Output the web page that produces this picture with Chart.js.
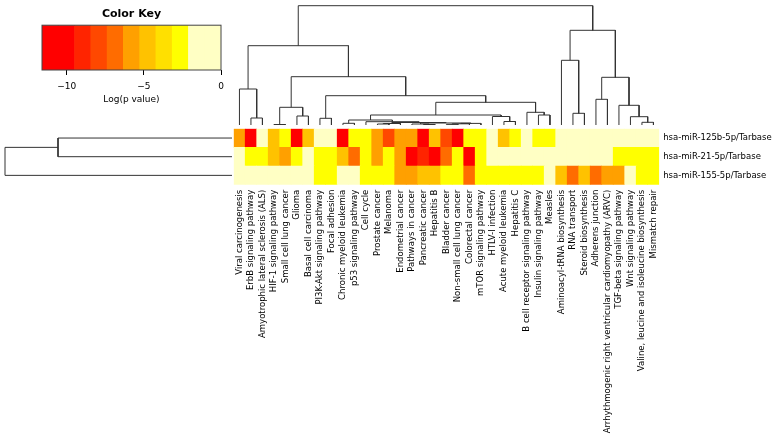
<!DOCTYPE html>
<html>
<head>
<meta charset="utf-8">
<script src="https://cdn.jsdelivr.net/npm/chart.js@4.4.0/dist/chart.umd.min.js"></script>
<style>
body { margin: 0; background: #fff; }
#wrap { position: relative; width: 778px; height: 443px; }
canvas { position: absolute; left: 0; top: 0; }
</style>
</head>
<body>
<div id="wrap">
  <canvas id="key" width="778" height="443"></canvas>
  <canvas id="coltree" width="778" height="443"></canvas>
  <canvas id="rowtree" width="778" height="443"></canvas>
  <canvas id="heat" width="778" height="443"></canvas>
</div>
<script>
var pathways = ['Viral carcinogenesis', 'ErbB signaling pathway', 'Amyotrophic lateral sclerosis (ALS)',
  'HIF-1 signaling pathway', 'Small cell lung cancer', 'Glioma', 'Basal cell carcinoma',
  'PI3K-Akt signaling pathway', 'Focal adhesion', 'Chronic myeloid leukemia', 'p53 signaling pathway',
  'Cell cycle', 'Prostate cancer', 'Melanoma', 'Endometrial cancer', 'Pathways in cancer',
  'Pancreatic cancer', 'Hepatitis B', 'Bladder cancer', 'Non-small cell lung cancer', 'Colorectal cancer',
  'mTOR signaling pathway', 'HTLV-I infection', 'Acute myeloid leukemia', 'Hepatitis C',
  'B cell receptor signaling pathway', 'Insulin signaling pathway', 'Measles', 'Aminoacyl-tRNA biosynthesis',
  'RNA transport', 'Steroid biosynthesis', 'Adherens junction',
  'Arrhythmogenic right ventricular cardiomyopathy (ARVC)', 'TGF-beta signaling pathway',
  'Wnt signaling pathway', 'Valine, leucine and isoleucine biosynthesis', 'Mismatch repair'];

var rowNames = ['hsa-miR-125b-5p/Tarbase', 'hsa-miR-21-5p/Tarbase', 'hsa-miR-155-5p/Tarbase'];

// log(p value) per pathway
var mir125b = [-5.8, -10.5, -1.0, -4.6, -2.6, -10.5, -4.6, -1.1, -0.9, -10.6, -2.6, -2.7, -5.6, -8.0,
  -5.8, -5.9, -10.8, -4.7, -8.0, -11.0, -2.6, -2.7, -1.2, -4.5, -2.6, -1.0, -2.6, -2.7,
  -0.4, -0.5, -0.3, -0.6, -0.2, -0.5, -0.4, -0.3, -0.5];
var mir21 = [-0.8, -2.7, -2.9, -4.5, -5.9, -2.6, -1.1, -2.5, -2.6, -4.8, -6.8, -2.7, -5.5, -2.6,
  -5.5, -10.8, -9.0, -11.2, -6.9, -2.6, -10.9, -2.5, -1.3, -1.0, -0.9, -1.2, -0.8, -1.1,
  -0.6, -0.9, -0.7, -1.0, -0.8, -2.6, -2.7, -2.6, -2.5];
var mir155 = [-0.3, -0.5, -0.4, -0.6, -0.3, -0.5, -0.4, -2.6, -2.7, -1.0, -1.2, -2.6, -2.7, -2.6,
  -5.8, -5.9, -4.7, -4.8, -2.6, -2.7, -6.9, -2.6, -2.7, -2.6, -2.8, -2.6, -2.7, -1.3,
  -4.6, -6.8, -4.9, -7.0, -5.8, -5.7, -1.4, -2.7, -2.6];

// colour key
var keyBreaks = [-11.6, -10.55, -9.49, -8.44, -7.38, -6.33, -5.27, -4.22, -3.16, -2.11, -1.05, 0];
var keyColors = ['#FF0000', '#FF0000', '#FF2400', '#FF4800', '#FF6C00', '#FFA000', '#FFC200',
  '#FFE000', '#FFFF00', '#FFFFC4', '#FFFFC4'];
var keyTicks = [-10, -5, 0];

// column dendrogram (R style merge: negative = leaf, positive = earlier merge)
var colMerge = [[-4, -5], [-17, -18], [-19, -20], [-13, -14], [-16, 2], [3, -21], [4, -15], [6, -22],
  [-10, -11], [5, 8], [7, 10], [-36, -37], [-12, 11], [-24, -25], [9, 13], [-8, -9], [-2, -3],
  [-35, 12], [-23, 14], [-6, -7], [15, 19], [-27, -28], [-30, -31], [-26, 22], [1, 20], [-34, 18],
  [21, 24], [-32, -33], [16, 27], [-1, 17], [28, 26], [25, 29], [-29, 23], [30, 32], [33, 31], [34, 35]];
var colHeights = [0.5, 0.5, 0.6, 1.0, 1.0, 1.2, 1.5, 1.6, 1.7, 2.0, 2.5, 2.7, 3.3, 3.5, 5.0, 6.7, 7.0,
  8.3, 8.5, 9.0, 10.0, 10.0, 11.7, 12.7, 17.7, 19.7, 22.7, 25.7, 29.3, 36.0, 47.7, 48.3, 64.7, 79.3,
  94.7, 119.3];

// row dendrogram
var rowMerge = [[-1, -2], [-3, 1]];
var rowHeights = [174, 227];

Chart.defaults.font.family = 'DejaVu Sans';
Chart.defaults.color = '#000';
Chart.defaults.animation = false;
Chart.defaults.events = [];
Chart.defaults.plugins.legend.display = false;
Chart.defaults.plugins.tooltip.enabled = false;

var FONT = 'DejaVu Sans';
var LINE = '#333';

function colorFor(v) {
  for (var i = 0; i < keyColors.length; i++) {
    if (v <= keyBreaks[i + 1]) return keyColors[i];
  }
  return keyColors[keyColors.length - 1];
}

function dendroLines(merge, heights, leafPos) {
  var pos = [], pts = [];
  function node(ref) { return ref < 0 ? { p: leafPos[-ref - 1], h: 0 } : pos[ref - 1]; }
  merge.forEach(function (m, i) {
    var a = node(m[0]), b = node(m[1]), h = heights[i];
    pts.push({ p: a.p, h: a.h }, { p: a.p, h: h }, { p: b.p, h: h }, { p: b.p, h: b.h }, null);
    pos.push({ p: (a.p + b.p) / 2, h: h });
  });
  return pts;
}
var GAP = { x: null, y: null };

// ---- colour key
var keyBins = keyColors.map(function (c, i) { return { x: [keyBreaks[i], keyBreaks[i + 1]], y: 'key' }; });
new Chart(document.getElementById('key'), {
  type: 'bar',
  data: {
    labels: ['key'],
    datasets: [{ data: keyBins, backgroundColor: keyColors, borderWidth: 0, barPercentage: 1, categoryPercentage: 1 }]
  },
  options: {
    responsive: false,
    indexAxis: 'y',
    layout: { padding: { left: 42, right: 557, top: 0, bottom: 333 } },
    plugins: {
      title: { display: true, text: 'Color Key', font: { family: FONT, size: 11, weight: 'bold' }, padding: { top: 8, bottom: 4 } }
    },
    scales: {
      y: { display: false },
      x: {
        type: 'linear', min: keyBreaks[0], max: 0,
        afterBuildTicks: function (s) { s.ticks = keyTicks.map(function (v) { return { value: v }; }); },
        afterFit: function (s) { s.height = 40; },
        grid: { drawOnChartArea: false, drawTicks: true, tickLength: 5, color: '#000' },
        border: { display: false },
        ticks: {
          padding: 6, font: { size: 9 },
          callback: function (v) { return v < 0 ? '\u2212' + Math.abs(v) : String(v); }
        },
        title: { display: true, text: 'Log(p value)', font: { size: 9 }, padding: { top: 0, bottom: 5 } }
      }
    }
  },
  plugins: [{
    id: 'keyBox',
    afterDatasetsDraw: function (c) {
      var a = c.chartArea, ctx = c.ctx;
      ctx.save();
      ctx.strokeStyle = '#444';
      ctx.lineWidth = 1;
      ctx.strokeRect(a.left, a.top, a.width, a.height);
      ctx.restore();
    }
  }]
});

// ---- column dendrogram
var colLeaves = pathways.map(function (p, i) { return i; });
var colPts = dendroLines(colMerge, colHeights, colLeaves).map(function (d) { return d ? { x: d.p, y: d.h } : GAP; });
new Chart(document.getElementById('coltree'), {
  type: 'line',
  data: { datasets: [{ data: colPts, borderColor: LINE, borderWidth: 1, pointRadius: 0, spanGaps: false, clip: false }] },
  options: {
    responsive: false,
    layout: { padding: { left: 233.7, right: 118.8, top: 5.7, bottom: 318 } },
    scales: {
      x: { type: 'linear', display: false, min: -0.5, max: pathways.length - 0.5 },
      y: { type: 'linear', display: false, min: 0, max: colHeights[colHeights.length - 1] }
    }
  }
});

// ---- row dendrogram
var rowLeaves = [2.5, 1.5, 0.5];
var rowPts = dendroLines(rowMerge, rowHeights, rowLeaves).map(function (d) { return d ? { x: d.h, y: d.p } : GAP; });
new Chart(document.getElementById('rowtree'), {
  type: 'line',
  data: { datasets: [{ data: rowPts, borderColor: LINE, borderWidth: 1, pointRadius: 0, spanGaps: false, clip: false }] },
  options: {
    responsive: false,
    layout: { padding: { left: 5, right: 546, top: 128.7, bottom: 258.3 } },
    scales: {
      x: { type: 'linear', display: false, reverse: true, min: 0, max: rowHeights[rowHeights.length - 1] },
      y: { type: 'linear', display: false, min: 0, max: 3 }
    }
  }
});

// ---- heatmap (stacked cells, bottom row first)
var rows = [mir155, mir21, mir125b];
new Chart(document.getElementById('heat'), {
  type: 'bar',
  data: {
    labels: pathways,
    datasets: rows.map(function (vals) {
      return {
        data: vals.map(function () { return 1; }),
        backgroundColor: vals.map(colorFor),
        borderWidth: 0, barPercentage: 1, categoryPercentage: 1
      };
    })
  },
  options: {
    responsive: false,
    layout: { padding: { left: 233.7, right: 0, top: 128.7, bottom: 0 } },
    scales: {
      x: {
        stacked: true,
        afterFit: function (s) { s.height = 258.3; },
        grid: { display: false, drawTicks: false }, border: { display: false },
        ticks: { autoSkip: false, minRotation: 90, maxRotation: 90, padding: 5, font: { size: 8.5 } }
      },
      y: {
        stacked: true, position: 'right', min: 0, max: 3,
        afterBuildTicks: function (s) { s.ticks = rowLeaves.slice().reverse().map(function (v) { return { value: v }; }); },
        afterFit: function (s) { s.width = 118.8; },
        grid: { display: false, drawTicks: false }, border: { display: false },
        ticks: {
          padding: 4, font: { size: 8.5 },
          callback: function (v, i) { return rowNames[2 - i]; }
        }
      }
    }
  }
});
</script>
</body>
</html>
